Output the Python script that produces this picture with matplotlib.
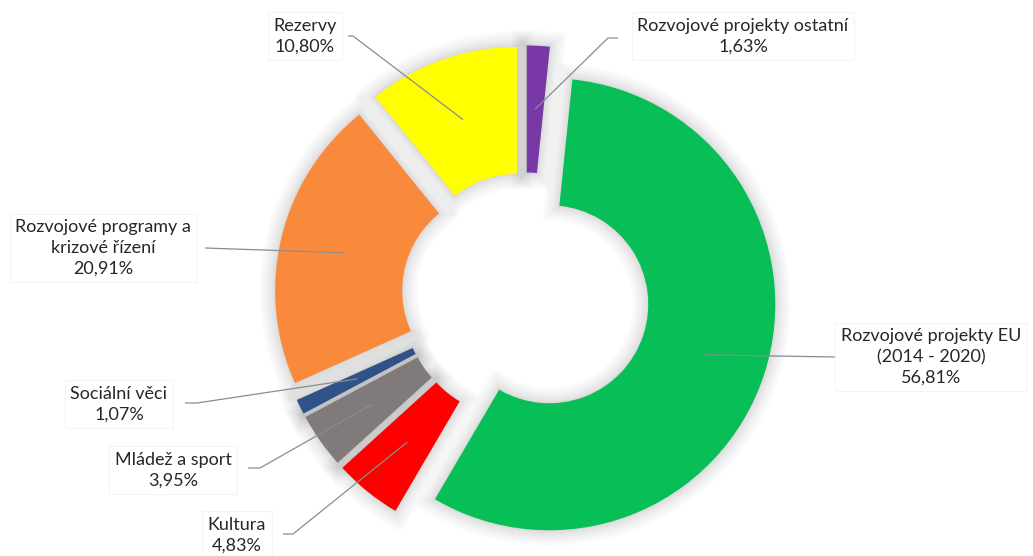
import numpy as np
import matplotlib
matplotlib.use("Agg")
import matplotlib.pyplot as plt
import matplotlib.patheffects as pe

plt.rcParams['font.family'] = ['Lato', 'DejaVu Sans']

# slices, clockwise from 12 o'clock
categories = [
    "Rozvojové projekty ostatní",
    "Rozvojové projekty EU\n(2014 - 2020)",
    "Kultura",
    "Mládež a sport",
    "Sociální věci",
    "Rozvojové programy a\nkrizové řízení",
    "Rezervy",
]
shares = [1.63, 56.81, 4.83, 3.95, 1.07, 20.91, 10.80]
share_labels = ["1,63%", "56,81%", "4,83%", "3,95%", "1,07%", "20,91%", "10,80%"]
colors = ["#7838A6", "#08BE56", "#FF0000", "#807A7A", "#2F5289", "#F9893B", "#FFFF00"]

# label layout in pixel coords (text centre, leader elbow, leader end)
label_pos = [(743, 36), (931, 357), (237, 535), (173, 470), (119, 404), (103, 248), (305, 36)]
elbows = [(608, 38), None, (293, 534), (260, 468), (197, 403), None, (353, 36)]
ends = [(618, 38), (836, 357), (283, 534), (248, 468), (185, 403), (205, 248), (348, 36)]

W, H = 1033, 556
fig = plt.figure(figsize=(W / 100, H / 100), dpi=100)
ax = fig.add_axes([0, 0, 1, 1])

center = (525.5, H - 296.5)
radius = 226
ring = 127
explode = [25] * len(shares)

# soft shadow under the slices
glow = [pe.Stroke(linewidth=lw, foreground="black", alpha=0.018) for lw in (22, 18, 14, 10, 7, 4, 2)]
shadow, _ = ax.pie(shares, colors=["#e6e6e6"] * len(shares), startangle=90, counterclock=False,
                   explode=explode, center=center, radius=radius,
                   wedgeprops=dict(width=ring, linewidth=0, zorder=1))
for w in shadow:
    w.set_path_effects(glow)

wedges, _ = ax.pie(shares, colors=colors, startangle=90, counterclock=False,
                   explode=explode, center=center, radius=radius,
                   wedgeprops=dict(width=ring, linewidth=0, zorder=2))

for w, txt, pct, pos, elb, end in zip(wedges, categories, share_labels, label_pos, elbows, ends):
    mid = np.deg2rad((w.theta1 + w.theta2) / 2)
    cx, cy = w.center
    rr = radius - ring / 2
    sx, sy = cx + rr * np.cos(mid), cy + rr * np.sin(mid)
    pts = [(sx, sy)]
    if elb is not None:
        pts.append((elb[0], H - elb[1]))
    pts.append((end[0], H - end[1]))
    xs, ys = zip(*pts)
    ax.plot(xs, ys, color="#8c8c8c", lw=0.9, zorder=3, solid_capstyle="butt")
    ax.text(pos[0], H - pos[1], f"{txt}\n{pct}", ha="center", va="center", fontsize=13,
            color="#262626", linespacing=1.38, zorder=4,
            bbox=dict(boxstyle="square,pad=0.3", fc="white", ec="#f4f4f4", lw=0.8))

ax.set_xlim(0, W)
ax.set_ylim(0, H)
ax.set_aspect("equal")
ax.axis("off")

fig.savefig("out.png", dpi=100)
